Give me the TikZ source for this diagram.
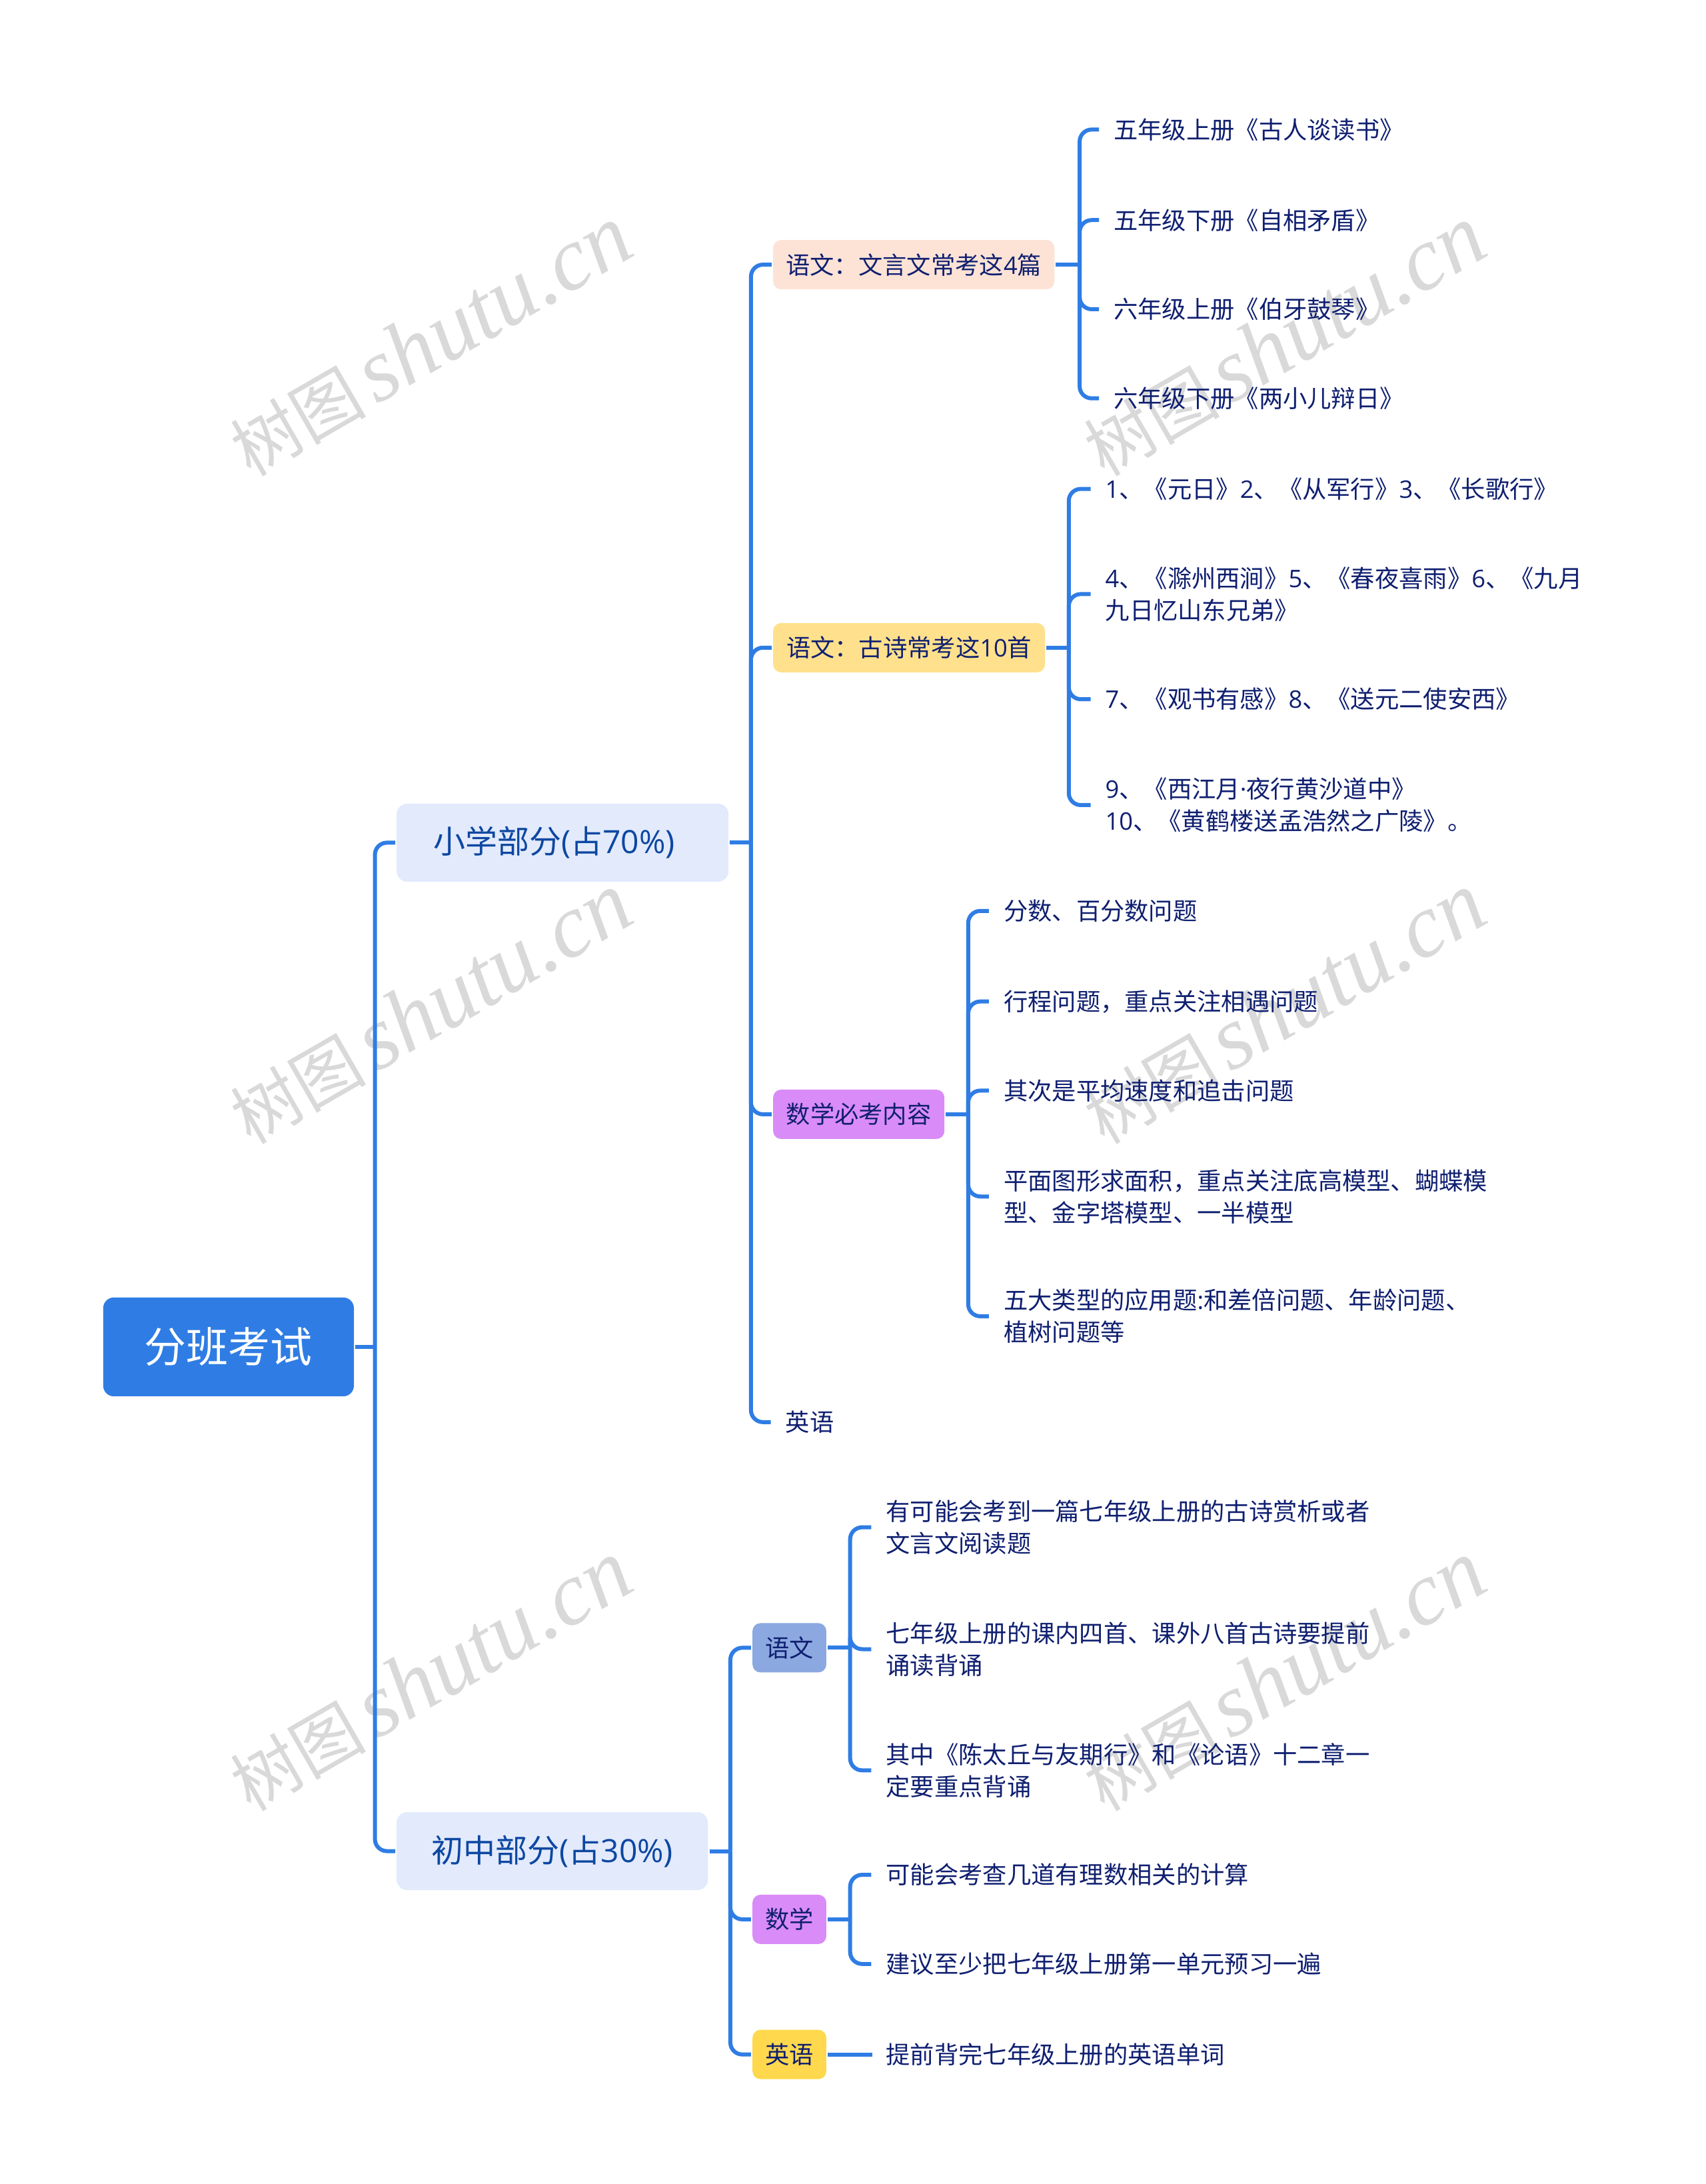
\documentclass[tikz,border=0pt]{standalone}
\usepackage{fontspec}
\setmainfont{Noto Sans CJK SC}
\newfontfamily\lat{Open Sans}
\newfontfamily\wmcjk{Noto Sans CJK SC}
\newfontfamily\wmlat{Liberation Serif}[ItalicFont=* Italic]
\definecolor{linec}{HTML}{2F7DE4}
\definecolor{navy}{HTML}{0F1F70}
\definecolor{deep}{HTML}{0D47A1}
\definecolor{lone}{HTML}{E2EAFC}
\definecolor{wmgray}{HTML}{D9D9D9}
\definecolor{peach}{HTML}{FDE3D6}
\definecolor{sun}{HTML}{FFE08C}
\definecolor{violet2}{HTML}{D98BF7}
\definecolor{blue2}{HTML}{8CA8E0}
\definecolor{gold2}{HTML}{FFD84D}
\newdimen\uu
\uu=2.09pt
\tikzset{
  boxbase/.style={anchor=west,rounded corners=12pt,inner sep=0pt,align=center,text=navy,font=\fontsize{36.3}{48}\selectfont,minimum height=35.4*\uu},
  rootbox/.style={boxbase,fill=linec,text=white,font=\fontsize{63}{70}\selectfont,minimum width=180*\uu,minimum height=71*\uu,rounded corners=16pt},
  lonebox/.style={boxbase,fill=lone,text=deep,font=\fontsize{48}{56}\selectfont,minimum height=56*\uu,rounded corners=16pt},
  leaf/.style={anchor=west,inner ysep=0pt,inner xsep=20pt,align=left,text=navy,font=\fontsize{36.3}{48}\selectfont},
  stub/.style={draw=linec,line width=6pt,shorten <=2pt},
  conn/.style={draw=linec,line width=6pt,rounded corners=18pt,shorten >=2pt},
  wm/.style={text=wmgray,rotate=30,inner sep=0pt}
}
\newcommand{\wmark}{{\wmcjk\fontsize{102}{130}\selectfont 树图}\hspace{14pt}{\wmlat\itshape\fontsize{135}{130}\selectfont shutu.cn}}
\begin{document}
\begin{tikzpicture}[x=\uu,y=-\uu]
\useasboundingbox (0,0) rectangle (1224.9,1568);
\fill[white] (0,0) rectangle (1224.9,1568);
% watermarks
\node[wm] (w1) at (309,245) {\wmark};
\node[wm] (w2) at (922,245) {\wmark};
\node[wm] (w3) at (309,724) {\wmark};
\node[wm] (w4) at (922,724) {\wmark};
\node[wm] (w5) at (309,1203) {\wmark};
\node[wm] (w6) at (922,1203) {\wmark};
% main nodes
\node[rootbox] (root) at (74,967) {分班考试};
\node[lonebox,minimum width=238.3*\uu] (p) at (284.7,605) {小学部分{\lat(}占{\lat 70\%)}\hspace{25pt}};
\node[lonebox,minimum width=223.5*\uu] (m) at (284.7,1329) {初中部分{\lat(}占{\lat 30\%)}};
\node[boxbase,fill=peach,minimum width=202*\uu] (a1) at (555,190) {语文：文言文常考这{\lat 4}篇};
\node[boxbase,fill=sun,minimum width=195.2*\uu] (a2) at (555,465) {语文：古诗常考这{\lat 10}首};
\node[boxbase,fill=violet2,minimum width=123*\uu] (a3) at (555,800) {数学必考内容};
\node[leaf] (a4) at (554.4,1021) {英语};
\node[boxbase,fill=blue2,minimum width=53*\uu] (b1) at (540.2,1183) {语文};
\node[boxbase,fill=violet2,minimum width=53*\uu] (b2) at (540.2,1378) {数学};
\node[boxbase,fill=gold2,minimum width=53*\uu] (b3) at (540.2,1475) {英语};
% leaves
\node[leaf] (l11) at (790,93) {五年级上册《古人谈读书》};
\node[leaf] (l12) at (790,158) {五年级下册《自相矛盾》};
\node[leaf] (l13) at (790,222) {六年级上册《伯牙鼓琴》};
\node[leaf] (l14) at (790,286) {六年级下册《两小儿辩日》};
\node[leaf] (l21) at (784,351) {{\lat 1}、《元日》{\lat 2}、《从军行》{\lat 3}、《长歌行》};
\node[leaf] (l22) at (784,426.5) {{\lat 4}、《滁州西涧》{\lat 5}、《春夜喜雨》{\lat 6}、《九月\\九日忆山东兄弟》};
\node[leaf] (l23) at (784,502) {{\lat 7}、《观书有感》{\lat 8}、《送元二使安西》};
\node[leaf] (l24) at (784,578) {{\lat 9}、《西江月{\lat ·}夜行黄沙道中》\\{\lat 10}、《黄鹤楼送孟浩然之广陵》。};
\node[leaf] (l31) at (711,654) {分数、百分数问题};
\node[leaf] (l32) at (711,719) {行程问题，重点关注相遇问题};
\node[leaf] (l33) at (711,783) {其次是平均速度和追击问题};
\node[leaf] (l34) at (711,859) {平面图形求面积，重点关注底高模型、蝴蝶模\\型、金字塔模型、一半模型};
\node[leaf] (l35) at (711,945) {五大类型的应用题{\lat :}和差倍问题、年龄问题、\\植树问题等};
\node[leaf] (c11) at (626.5,1096.5) {有可能会考到一篇七年级上册的古诗赏析或者\\文言文阅读题};
\node[leaf] (c12) at (626.5,1184) {七年级上册的课内四首、课外八首古诗要提前\\诵读背诵};
\node[leaf] (c13) at (626.5,1271) {其中《陈太丘与友期行》和《论语》十二章一\\定要重点背诵};
\node[leaf] (c21) at (626.5,1346) {可能会考查几道有理数相关的计算};
\node[leaf] (c22) at (626.5,1410) {建议至少把七年级上册第一单元预习一遍};
\node[leaf] (c31) at (626.5,1475) {提前背完七年级上册的英语单词};
% junctions
\coordinate (jr) at ([xshift=15*\uu]root.east);
\coordinate (jp) at ([xshift=16*\uu]p.east);
\coordinate (jm) at ([xshift=16*\uu]m.east);
\coordinate (j1) at ([xshift=18*\uu]a1.east);
\coordinate (j2) at ([xshift=17*\uu]a2.east);
\coordinate (j3) at ([xshift=17*\uu]a3.east);
\coordinate (jb1) at ([xshift=17*\uu]b1.east);
\coordinate (jb2) at ([xshift=17*\uu]b2.east);
% stubs
\foreach \a/\b in {root/jr,p/jp,m/jm,a1/j1,a2/j2,a3/j3,b1/jb1,b2/jb2}{\draw[stub] (\a.east) -- (\b);}
\draw[stub] (b3.east) -- (c31.west);
% branches
\foreach \a/\b in {jr/p,jr/m,jp/a1,jp/a2,jp/a3,jp/a4,jm/b1,jm/b2,jm/b3,
  j1/l11,j1/l12,j1/l13,j1/l14,j2/l21,j2/l22,j2/l23,j2/l24,
  j3/l31,j3/l32,j3/l33,j3/l34,j3/l35,jb1/c11,jb1/c12,jb1/c13,jb2/c21,jb2/c22}
  {\draw[conn] (\a) |- (\b.west);}
\end{tikzpicture}
\end{document}
